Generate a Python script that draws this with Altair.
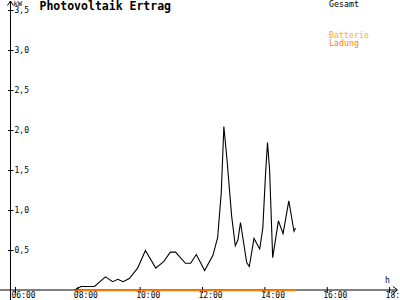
import altair as alt
import pandas as pd

# ---- data ----
times = ["07:55", "07:57", "08:06", "08:32", "08:53", "09:07", "09:17", "09:27", "09:39",
         "09:55", "10:10", "10:30", "10:45", "10:58", "11:08", "11:27", "11:37", "11:48",
         "12:04", "12:20", "12:29", "12:36", "12:41", "12:47", "12:56", "13:03", "13:08",
         "13:13", "13:19", "13:25", "13:30", "13:39", "13:50", "13:56", "14:01", "14:05",
         "14:09", "14:15", "14:26", "14:35", "14:46", "14:56", "14:59"]
gesamt_kw = [0.00, 0.02, 0.05, 0.05, 0.17, 0.11, 0.14, 0.11, 0.15,
             0.28, 0.50, 0.28, 0.36, 0.48, 0.48, 0.34, 0.34, 0.45,
             0.25, 0.44, 0.66, 1.22, 2.05, 1.64, 0.93, 0.56, 0.63,
             0.85, 0.60, 0.35, 0.30, 0.65, 0.52, 0.78, 1.43, 1.85,
             1.51, 0.41, 0.87, 0.71, 1.12, 0.74, 0.78]
ladung_times = ["07:55", "14:59"]
ladung_kw = [0.0, 0.0]

x_tick_hours = [6, 8, 10, 12, 14, 16, 18]
x_tick_labels = ["06:00", "08:00", "10:00", "12:00", "14:00", "16:00", "18:00"]
y_tick_values = [0.5, 1.0, 1.5, 2.0, 2.5, 3.0, 3.5]
y_tick_labels = ["0,5", "1,0", "1,5", "2,0", "2,5", "3,0", "3,5"]

legend_labels = ["Gesamt", "Batterie", "Ladung"]
legend_colors = ["#000000", "#FFB000", "#FF8000"]

title_text = "Photovoltaik Ertrag"


def to_hours(t):
    h, m = t.split(":")
    return int(h) + int(m) / 60.0


df_g = pd.DataFrame({"h": [to_hours(t) for t in times], "kw": gesamt_kw})
df_l = pd.DataFrame({"h": [to_hours(t) for t in ladung_times], "kw": ladung_kw})
df_xt = pd.DataFrame({"h": x_tick_hours, "label": x_tick_labels})
df_yt = pd.DataFrame({"v": y_tick_values, "label": y_tick_labels})
df_leg = pd.DataFrame({"label": legend_labels, "color": legend_colors,
                       "ypos": [5, 36, 44]})

FONT = "DejaVu Sans Mono"
xs = alt.Scale(domain=[6, 18], range=[15.5, 389.6], nice=False, zero=False)
ys = alt.Scale(domain=[0, 3.5], range=[290.5, 10.5], nice=False, zero=True)
X = alt.X("h:Q", scale=xs, axis=None)
one = pd.DataFrame({"a": [0]})


def seg(x1, y1, x2, y2):
    return alt.Chart(one).mark_rule(color="black", strokeWidth=1).encode(
        x=alt.value(x1), y=alt.value(y1), x2=alt.value(x2), y2=alt.value(y2))


# axis lines and arrows
x_axis = seg(0, 290, 397, 290)
y_axis = seg(10.5, 1, 10.5, 300)
x_arrow_a = seg(393, 286.5, 397.5, 290)
x_arrow_b = seg(393, 293.5, 397.5, 290)
y_arrow_a = seg(7.5, 5.5, 10.5, 1)
y_arrow_b = seg(13.5, 5.5, 10.5, 1)

# ticks and labels
x_ticks = alt.Chart(df_xt).mark_rule(color="black").encode(
    x=X, y=alt.value(287), y2=alt.value(293))
x_labels = alt.Chart(df_xt).mark_text(font=FONT, fontSize=8, align="left", baseline="middle",
                                      dx=-4, color="black").encode(
    x=X, y=alt.value(296), text="label:N")
y_ticks = alt.Chart(df_yt).mark_rule(color="black").encode(
    y=alt.Y("v:Q", scale=ys, axis=None), x=alt.value(8), x2=alt.value(13.5))
y_labels = alt.Chart(df_yt).mark_text(font=FONT, fontSize=8, align="left", baseline="middle",
                                      dx=0, color="black").encode(
    y=alt.Y("v:Q", scale=ys, axis=None), x=alt.value(14.5), text="label:N")

unit_kw = alt.Chart(pd.DataFrame({"t": ["kW"]})).mark_text(
    font=FONT, fontSize=7, align="left", baseline="middle", color="black").encode(
    x=alt.value(13.5), y=alt.value(4), text="t:N")
unit_h = alt.Chart(pd.DataFrame({"t": ["h"]})).mark_text(
    font=FONT, fontSize=8, align="left", baseline="middle", color="black").encode(
    x=alt.value(385), y=alt.value(281), text="t:N")
title = alt.Chart(pd.DataFrame({"t": [title_text]})).mark_text(
    font=FONT, fontSize=11.5, fontWeight="bold", align="left", baseline="middle", color="black").encode(
    x=alt.value(39.5), y=alt.value(7), text="t:N")

legend = alt.Chart(df_leg).mark_text(font=FONT, fontSize=8.3, align="left", baseline="middle").encode(
    x=alt.value(329), y=alt.Y("ypos:Q", scale=None), text="label:N",
    color=alt.Color("color:N", scale=None))

# data lines
line_g = alt.Chart(df_g).mark_line(color="black", strokeWidth=1.1).encode(
    x=X, y=alt.Y("kw:Q", scale=ys, axis=None))
line_l = alt.Chart(df_l).mark_line(color="#FF8000", strokeWidth=1.6).encode(
    x=X, y=alt.Y("kw:Q", scale=ys, axis=None))

chart = alt.layer(
    x_axis, y_axis, x_arrow_a, x_arrow_b, y_arrow_a, y_arrow_b,
    x_ticks, x_labels, y_ticks, y_labels,
    unit_kw, unit_h, title, legend, line_g, line_l
).properties(
    width=400, height=300, autosize=alt.AutoSizeParams(type="none"), padding=0,
    background="white"
).configure_view(stroke=None)

chart.save("out.html", embed_options={"renderer": "svg", "actions": False})
